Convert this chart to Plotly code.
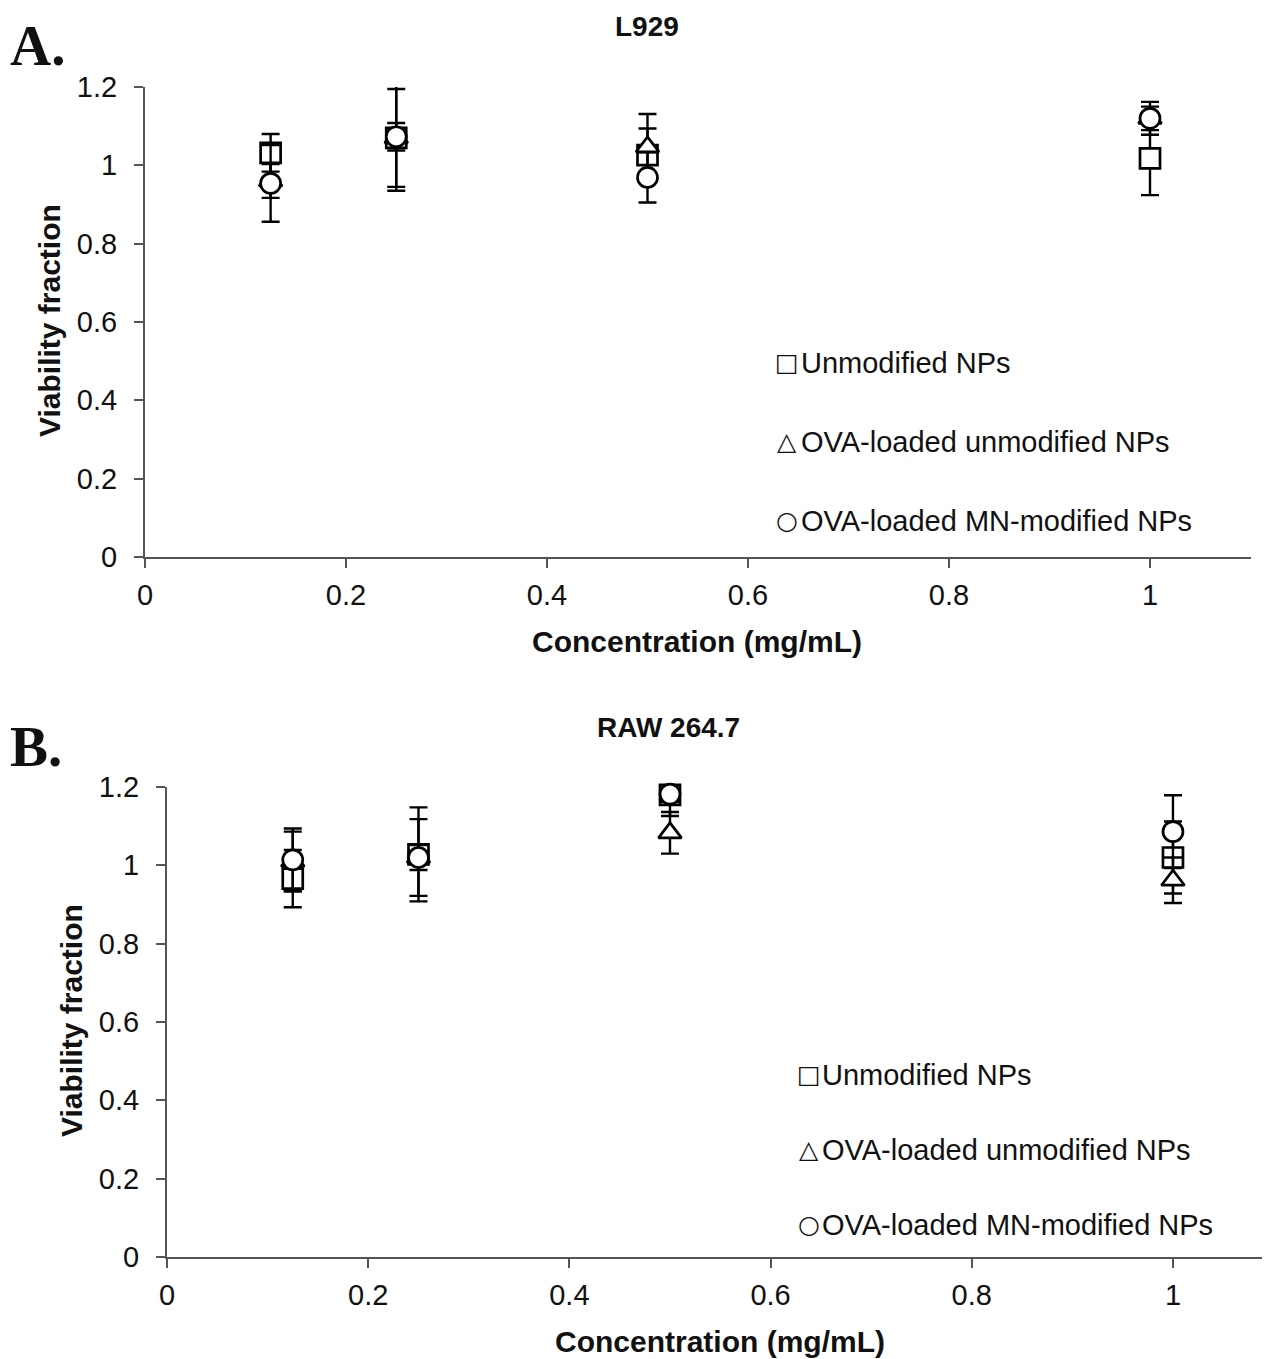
import plotly.graph_objects as go

W, H = 1264, 1359

conc = [0.125, 0.25, 0.5, 1.0]

series_names = ["Unmodified NPs", "OVA-loaded unmodified NPs", "OVA-loaded MN-modified NPs"]
symbols = ["square", "triangle-up", "circle"]
legend_glyphs = ["□", "△", "○"]

# Panel A: L929
A_unmod = [1.032, 1.07, 1.026, 1.018]
A_unmod_err = [0.048, 0.135, 0.068, 0.094]
A_ova_unmod = [0.96, 1.07, 1.047, 1.12]
A_ova_unmod_err = [0.043, 0.125, 0.084, 0.03]
A_ova_mn = [0.954, 1.073, 0.969, 1.12]
A_ova_mn_err = [0.098, 0.035, 0.064, 0.042]

# Panel B: RAW 264.7
B_unmod = [0.966, 1.028, 1.18, 1.02]
B_unmod_err = [0.073, 0.12, 0.054, 0.092]
B_ova_unmod = [1.01, 1.02, 1.083, 0.962]
B_ova_unmod_err = [0.076, 0.098, 0.053, 0.058]
B_ova_mn = [1.014, 1.02, 1.182, 1.086]
B_ova_mn_err = [0.08, 0.032, 0.02, 0.093]

y_ticks = [0, 0.2, 0.4, 0.6, 0.8, 1.0, 1.2]
y_ticktext = ["0", "0.2", "0.4", "0.6", "0.8", "1", "1.2"]
x_ticks = [0, 0.2, 0.4, 0.6, 0.8, 1.0]
x_ticktext = ["0", "0.2", "0.4", "0.6", "0.8", "1"]

FONT = "Liberation Sans, Arial, sans-serif"

fig = go.Figure()

panels = [
    ("x", "y", [(A_unmod, A_unmod_err), (A_ova_unmod, A_ova_unmod_err), (A_ova_mn, A_ova_mn_err)]),
    ("x2", "y2", [(B_unmod, B_unmod_err), (B_ova_unmod, B_ova_unmod_err), (B_ova_mn, B_ova_mn_err)]),
]
for xa, ya, data in panels:
    for (vals, errs), sym, name in zip(data, symbols, series_names):
        fig.add_trace(go.Scatter(
            x=conc, y=vals, mode="markers", name=name, showlegend=False,
            xaxis=xa, yaxis=ya, cliponaxis=False,
            marker=dict(symbol=sym, size=20, color="white", line=dict(width=2.7, color="black")),
            error_y=dict(type="data", array=errs, visible=True, color="black", thickness=2.4, width=9),
        ))


def px_x(p):
    return p / W


def px_y(p):
    return 1 - p / H


axis_common = dict(
    showline=True, linecolor="#555555", linewidth=2, ticks="outside", ticklen=9,
    tickwidth=2, tickcolor="#555555", showgrid=False, zeroline=False, automargin=False,
    tickfont=dict(family=FONT, size=29, color="#111111"),
)

fig.update_layout(
    template="none",
    width=W, height=H, margin=dict(l=0, r=0, t=0, b=0, pad=0),
    paper_bgcolor="white", plot_bgcolor="white", showlegend=False,
    xaxis=dict(domain=[px_x(145), px_x(1250.5)], range=[0, 1.1], anchor="y",
               tickvals=x_ticks, ticktext=x_ticktext, ticklabelstandoff=2, **axis_common),
    yaxis=dict(domain=[px_y(557), px_y(87)], range=[0, 1.2], anchor="x",
               tickvals=y_ticks, ticktext=y_ticktext, ticklabelstandoff=11, **axis_common),
    xaxis2=dict(domain=[px_x(167), px_x(1262)], range=[0, 1.0885], anchor="y2",
                tickvals=x_ticks, ticktext=x_ticktext, ticklabelstandoff=2, **axis_common),
    yaxis2=dict(domain=[px_y(1257), px_y(787)], range=[0, 1.2], anchor="x2",
                tickvals=y_ticks, ticktext=y_ticktext, ticklabelstandoff=11, **axis_common),
)

ann = []


def text(x, y, s, size, bold=False, family=FONT, xanchor="center", yanchor="middle", angle=0):
    ann.append(dict(
        x=px_x(x), y=px_y(y), xref="paper", yref="paper", text=("<b>%s</b>" % s) if bold else s,
        showarrow=False, xanchor=xanchor, yanchor=yanchor, textangle=angle,
        font=dict(family=family, size=size, color="#111111"),
    ))


SERIF = "Liberation Serif, Times New Roman, serif"
# Panel A texts
text(8, 46, "A.", 57, bold=True, family=SERIF, xanchor="left")
text(647, 27, "L929", 28, bold=True)
text(697, 641, "Concentration (mg/mL)", 30, bold=True)
text(49, 321, "Viability fraction", 30, bold=True, angle=-90)

# Panel B texts
text(8, 746, "B.", 57, bold=True, family=SERIF, xanchor="left")
text(668, 727, "RAW 264.7", 28, bold=True)
text(720, 1341, "Concentration (mg/mL)", 30, bold=True)
text(71, 1021, "Viability fraction", 30, bold=True, angle=-90)

# Legends
legA = [(787, 799, 362), (787, 799, 441), (787, 799, 520)]
legB = [(809, 820, 1074), (809, 820, 1149), (809, 820, 1224)]
for leg in (legA, legB):
    for (gx, tx, ty), g, name in zip(leg, legend_glyphs, series_names):
        text(gx, ty, g, 25, family="DejaVu Sans", xanchor="center")
        text(tx, ty + 1, name, 29, xanchor="left")

fig.update_layout(annotations=ann)

fig.write_html("out.html")
